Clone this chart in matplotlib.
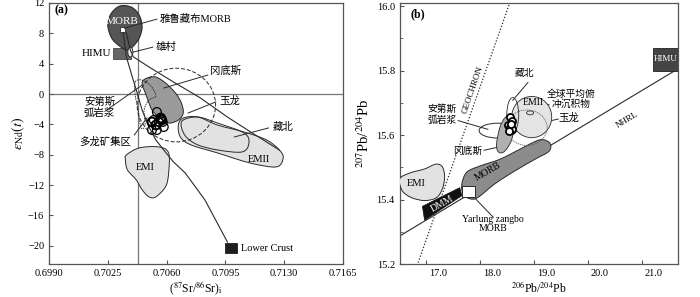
import numpy as np
import matplotlib
matplotlib.use("Agg")
import matplotlib.pyplot as plt
from matplotlib.path import Path
from matplotlib.patches import PathPatch, Rectangle, Ellipse, Polygon
import matplotlib.transforms as mtransforms
from matplotlib.ticker import MultipleLocator

plt.rcParams['font.family'] = ['Liberation Serif', 'Noto Sans CJK SC']
plt.rcParams['mathtext.fontset'] = 'stix'
plt.rcParams['font.size'] = 7.5

# ---------------- panel (a): Sr-Nd ----------------
morb_a_sr = [0.70250, 0.70268, 0.70320, 0.70390, 0.70437, 0.70454, 0.70437, 0.70402, 0.70367, 0.70320, 0.70273]
morb_a_nd = [9.08, 10.53, 11.58, 11.45, 10.39, 8.82, 7.37, 6.32, 5.79, 6.32, 7.37]

himu_a_sr = (0.70279, 0.70390)
himu_a_nd = (4.61, 6.05)

gangdese_a_sr = [0.70454, 0.70483, 0.70536, 0.70594, 0.70653, 0.70688, 0.70699, 0.70670, 0.70612, 0.70553, 0.70513, 0.70495, 0.70478]
gangdese_a_nd = [1.45, 2.1, 2.24, 1.45, 0.13, -1.18, -2.5, -3.42, -3.82, -3.03, -2.1, -1.18, -0.13]

andes_a_sr = [0.70413, 0.70454, 0.70507, 0.70536, 0.70495, 0.70466, 0.70472, 0.70448, 0.70431, 0.70413]
andes_a_nd = [1.58, 1.84, 1.05, -0.26, -0.79, -2.1, -4.08, -4.47, -2.1, -0.13]

emii_a_sr = [0.70699, 0.70787, 0.70903, 0.71061, 0.71195, 0.71271, 0.71294, 0.71253, 0.71096, 0.70903, 0.70746, 0.70682, 0.70670]
emii_a_nd = [-3.16, -3.03, -4.08, -5.0, -6.05, -7.37, -8.42, -9.6, -9.08, -7.76, -6.71, -5.66, -4.08]

zangbei_a_sr = [0.70699, 0.70787, 0.70903, 0.71061, 0.71090, 0.71049, 0.70903, 0.70787, 0.70717, 0.70688]
zangbei_a_nd = [-3.42, -3.03, -3.82, -5.13, -6.45, -7.63, -7.37, -6.71, -5.66, -4.34]

emi_a_sr = [0.70361, 0.70437, 0.70553, 0.70612, 0.70612, 0.70594, 0.70536, 0.70495, 0.70454, 0.70419, 0.70367, 0.70355]
emi_a_nd = [-8.03, -7.1, -6.97, -7.76, -10.4, -12.2, -13.55, -13.55, -12.6, -11.3, -10.0, -8.68]

yulong_a_center = (0.70658, -1.45)
yulong_a_size = (0.00467, 9.7)

curve_lc_sr = [0.70338, 0.70361, 0.70396, 0.70425, 0.70454, 0.70495, 0.70536, 0.70583, 0.70641, 0.70711, 0.70828, 0.70962]
curve_lc_nd = [8.55, 4.87, 2.24, 0.13, -2.1, -4.34, -6.05, -7.37, -8.95, -10.4, -13.95, -19.5]

curve_up_sr = [0.70338, 0.70361, 0.70384, 0.70402, 0.70500, 0.70640, 0.70800, 0.70960, 0.71100, 0.71271]
curve_up_nd = [8.55, 8.0, 5.8, 4.9, 3.5, 1.6, -0.5, -3.0, -5.0, -7.37]

duolong_sr = [0.70542, 0.70524, 0.70565, 0.70577, 0.70536, 0.70513, 0.70583, 0.70542, 0.70571, 0.70513, 0.70553]
duolong_nd = [-2.37, -3.42, -3.16, -3.68, -4.08, -4.74, -4.34, -4.74, -3.42, -3.68, -3.68]

xiongcun = (0.70384, 5.53)
yarlung_a = (0.70338, 8.55)
lower_crust = (0.70985, -20.25)

sr_ticks = [0.6990, 0.7025, 0.7060, 0.7095, 0.7130, 0.7165]
nd_ticks = [-20, -16, -12, -8, -4, 0, 4, 8, 12]

# ---------------- panel (b): Pb-Pb ----------------
geochron_x = [16.60, 18.70]
geochron_y = [15.08, 16.08]
nhrl_x = [16.52, 21.667]
nhrl_y = [15.287, 15.806]

himu_b_x = (21.20, 21.67)
himu_b_y = (15.80, 15.87)

emi_b_x = [16.52, 16.70, 16.98, 17.19, 17.31, 17.35, 17.31, 17.20, 16.98, 16.74, 16.57]
emi_b_y = [15.464, 15.482, 15.495, 15.510, 15.501, 15.470, 15.434, 15.406, 15.397, 15.406, 15.427]

dmm_x = [16.94, 17.63, 17.67, 16.98]
dmm_y = [15.379, 15.437, 15.412, 15.336]

morb_b_x = [17.67, 17.76, 18.0, 18.37, 18.74, 19.02, 19.17, 19.30, 19.28, 19.02, 18.65, 18.28, 17.96, 17.81, 17.69]
morb_b_y = [15.449, 15.485, 15.504, 15.525, 15.556, 15.580, 15.586, 15.574, 15.550, 15.525, 15.489, 15.449, 15.406, 15.403, 15.418]

yarlung_b_x = (17.67, 17.91)
yarlung_b_y = (15.409, 15.443)

gangdese_b_x = [18.56, 18.63, 18.59, 18.46, 18.35, 18.31, 18.37, 18.46]
gangdese_b_y = [15.66, 15.641, 15.586, 15.55, 15.547, 15.571, 15.623, 15.653]

andes_b = (18.33, 15.614, 0.685, 0.046)
emii_b = (18.96, 15.656, 0.74, 0.128)
yulong_b = (18.87, 15.623, 0.75, 0.11)
zangbei_b = (18.61, 15.663, 0.22, 0.107)
sediment_b = (18.93, 15.669, 0.13, 0.012)

samples_b_x = [18.56, 18.59, 18.52, 18.56, 18.59, 18.54, 18.57]
samples_b_y = [15.656, 15.644, 15.632, 15.626, 15.620, 15.614, 15.635]

pb206_ticks = [17.0, 18.0, 19.0, 20.0, 21.0]
pb207_ticks = [15.2, 15.4, 15.6, 15.8, 16.0]

LINE = '#2a2a2a'


def smooth_closed(ax, xs, ys, **kw):
    # closed Catmull-Rom outline through the read points
    P = np.column_stack([xs, ys])
    n = len(P)
    verts = [P[0]]
    codes = [Path.MOVETO]
    for i in range(n):
        p0, p1, p2, p3 = P[i - 1], P[i], P[(i + 1) % n], P[(i + 2) % n]
        verts += [p1 + (p2 - p0) / 6, p2 - (p3 - p1) / 6, p2]
        codes += [Path.CURVE4] * 3
    p = PathPatch(Path(verts, codes), **kw)
    ax.add_patch(p)
    return p


fig = plt.figure(figsize=(7.0, 2.97), dpi=100)
ax1 = fig.add_axes([0.070, 0.111, 0.420, 0.879])
ax2 = fig.add_axes([0.571, 0.111, 0.398, 0.879])

for ax in (ax1, ax2):
    for s in ax.spines.values():
        s.set_color('#555555')
        s.set_linewidth(0.9)
    ax.tick_params(direction='in', length=3, color='#555555', labelsize=7.5,
                   top=False, right=False)

# ---- panel a ----
ax1.set_xlim(0.6990, 0.7163)
ax1.set_ylim(-22.4, 12)
ax1.set_xticks(sr_ticks)
ax1.set_xticklabels(['%.4f' % t for t in sr_ticks])
ax1.set_yticks(nd_ticks)
ax1.axhline(0, color='#777777', lw=0.9, zorder=1)
ax1.axvline(0.70431, color='#777777', lw=0.9, zorder=1)

smooth_closed(ax1, emi_a_sr, emi_a_nd, fc='#e2e2e2', ec=LINE, lw=0.7, zorder=2)
smooth_closed(ax1, emii_a_sr, emii_a_nd, fc='#e2e2e2', ec=LINE, lw=0.7, zorder=2)
smooth_closed(ax1, zangbei_a_sr, zangbei_a_nd, fill=False, ec=LINE, lw=0.7, zorder=3)
smooth_closed(ax1, gangdese_a_sr, gangdese_a_nd, fc='#9a9a9a', ec=LINE, lw=0.7, zorder=3)
smooth_closed(ax1, andes_a_sr, andes_a_nd, fill=False, ec=LINE, lw=0.6, ls=(0, (2, 1)), zorder=4)
ax1.add_patch(Ellipse(yulong_a_center, yulong_a_size[0], yulong_a_size[1], fill=False,
                      ec=LINE, lw=0.7, ls=(0, (4, 2)), zorder=4))
ax1.add_patch(Rectangle((himu_a_sr[0], himu_a_nd[0]), himu_a_sr[1] - himu_a_sr[0],
                        himu_a_nd[1] - himu_a_nd[0], fc='#666666', ec='#444444', lw=0.6, zorder=3))
smooth_closed(ax1, morb_a_sr, morb_a_nd, fc='#555555', ec=LINE, lw=0.8, zorder=4)
ax1.add_patch(Ellipse(xiongcun, 0.00030, 1.3, fc='#f0f0f0', ec=LINE, lw=0.7, zorder=5))
ax1.plot(curve_lc_sr, curve_lc_nd, color=LINE, lw=0.8, zorder=5)
ax1.plot(curve_up_sr, curve_up_nd, color=LINE, lw=0.8, zorder=5)
ax1.add_patch(Rectangle((yarlung_a[0] - 0.00014, yarlung_a[1] - 0.33), 0.00028, 0.66,
                        fc='white', ec=LINE, lw=0.6, zorder=6))
ax1.add_patch(Rectangle((lower_crust[0] - 0.00035, lower_crust[1] - 0.65), 0.0007, 1.3,
                        fc='#1e1e1e', ec='#1e1e1e', lw=0.6, zorder=6))
ax1.scatter(duolong_sr, duolong_nd, s=40, facecolors='none', edgecolors='black',
            linewidths=[0.9, 0.9, 1.4, 0.9, 1.4, 0.9, 0.9, 0.9, 1.4, 1.4, 0.9], zorder=7)

ax1.text(0.6993, 10.7, '(a)', fontsize=8.5, fontweight='bold', zorder=8)
ax1.text(0.70335, 9.5, 'MORB', color='white', ha='center', va='center', fontsize=8, zorder=8)
ax1.text(0.70273, 5.35, 'HIMU', ha='right', va='center', fontsize=8)
leaders_a = [
    ((0.70349, 8.68), (0.70542, 9.87), (0.70560, 9.87), '雅鲁藏布MORB', 'left'),
    ((0.70402, 5.53), (0.70518, 6.18), (0.70536, 6.18), '雄村', 'left'),
    ((0.70583, 0.79), (0.70845, 2.5), (0.70860, 3.1), '冈底斯', 'left'),
    ((0.70728, -2.5), (0.70892, -1.05), (0.70915, -0.85), '玉龙', 'left'),
    ((0.71003, -5.66), (0.71207, -4.47), (0.71230, -4.34), '藏北', 'left'),
]
for p0, p1, pt, txt, ha in leaders_a:
    ax1.plot([p0[0], p1[0]], [p0[1], p1[1]], color=LINE, lw=0.7, zorder=8)
    ax1.text(pt[0], pt[1], txt, ha=ha, va='center', fontsize=7.5, zorder=8)
ax1.plot([0.70244, 0.70454], [-2.1, 1.18], color=LINE, lw=0.7, zorder=8)
ax1.text(0.70200, -1.75, '安第斯\n弧岩浆', ha='center', va='center', fontsize=7.5,
         linespacing=1.2)
ax1.plot([0.70408, 0.70483], [-5.39, -3.16], color=LINE, lw=0.7, zorder=8)
ax1.text(0.70232, -6.25, '多龙矿集区', ha='center', va='center', fontsize=7.5)
ax1.text(0.70472, -9.74, 'EMI', ha='center', va='center', fontsize=7.5)
ax1.text(0.71148, -8.68, 'EMII', ha='center', va='center', fontsize=7.5)
ax1.text(0.71040, -20.35, 'Lower Crust', ha='left', va='center', fontsize=7.5)

ax1.set_xlabel(r'($^{87}$Sr/$^{86}$Sr)$_{\mathrm{i}}$', fontsize=8.5, labelpad=1.5)
ax1.set_ylabel(r'$\varepsilon_{\mathrm{Nd}}(t)$', fontsize=10, labelpad=1)

# ---- panel b ----
ax2.set_xlim(16.52, 21.67)
ax2.set_ylim(15.2, 16.01)
ax2.set_xticks(pb206_ticks)
ax2.set_xticklabels(['%.1f' % t for t in pb206_ticks])
ax2.set_yticks(pb207_ticks)
ax2.set_yticklabels(['%.1f' % t for t in pb207_ticks])
ax2.yaxis.set_minor_locator(MultipleLocator(0.1))
ax2.tick_params(which='minor', direction='in', length=2.5, color='#555555')
off = mtransforms.ScaledTranslation(0.12, 0, fig.dpi_scale_trans)
for lab in ax2.get_xticklabels():
    lab.set_transform(lab.get_transform() + off)

ax2.plot(geochron_x, geochron_y, color=LINE, lw=0.9, ls=(0, (1, 1.5)), zorder=2)
ax2.plot(nhrl_x, nhrl_y, color=LINE, lw=0.8, zorder=2)
ax2.add_patch(Rectangle((himu_b_x[0], himu_b_y[0]), himu_b_x[1] - himu_b_x[0],
                        himu_b_y[1] - himu_b_y[0], fc='#444444', ec='#222222', lw=0.6, zorder=3))
ax2.text(sum(himu_b_x) / 2, sum(himu_b_y) / 2, 'HIMU', color='white', ha='center', va='center',
         fontsize=6.5, zorder=4)
smooth_closed(ax2, emi_b_x, emi_b_y, fc='#e2e2e2', ec=LINE, lw=0.7, zorder=3)
ax2.add_patch(Polygon(np.column_stack([dmm_x, dmm_y]), closed=True, fc='#111111', ec='#111111',
                      lw=0.5, zorder=3))
smooth_closed(ax2, morb_b_x, morb_b_y, fc='#8c8c8c', ec=LINE, lw=0.7, zorder=3)
ax2.add_patch(Rectangle((yarlung_b_x[0], yarlung_b_y[0]), yarlung_b_x[1] - yarlung_b_x[0],
                        yarlung_b_y[1] - yarlung_b_y[0], fc='white', ec=LINE, lw=0.7, zorder=4))
ax2.add_patch(Ellipse(emii_b[:2], emii_b[2], emii_b[3], angle=0, fc='#e4e4e4', ec=LINE,
                      lw=0.6, zorder=3))
ax2.add_patch(Ellipse(yulong_b[:2], yulong_b[2], yulong_b[3], fill=False, ec='#555555',
                      lw=0.5, ls=(0, (2, 1)), zorder=4))
ax2.add_patch(Ellipse(andes_b[:2], andes_b[2], andes_b[3], fill=False, ec=LINE, lw=0.7, zorder=4))
ax2.add_patch(Ellipse(zangbei_b[:2], zangbei_b[2], zangbei_b[3], fill=False, ec=LINE, lw=0.6, zorder=4))
ax2.add_patch(Ellipse(sediment_b[:2], sediment_b[2], sediment_b[3], fill=False, ec=LINE, lw=0.6, zorder=4))
smooth_closed(ax2, gangdese_b_x, gangdese_b_y, fc='#b0b0b0', ec=LINE, lw=0.6, zorder=5)
ax2.scatter(samples_b_x, samples_b_y, s=26, facecolors='white', edgecolors='black',
            linewidths=1.3, zorder=6)

ax2.text(16.72, 15.965, '(b)', fontsize=8.5, fontweight='bold')
ax2.text(17.87, 15.74, 'GEOCHRON', rotation=71, ha='center', va='center', fontsize=6.5)
ax2.text(20.72, 15.647, 'NHRL', rotation=31, ha='center', va='center', fontsize=6.5)
ax2.text(16.83, 15.449, 'EMI', ha='center', va='center', fontsize=7.5)
ax2.text(17.30, 15.388, 'DMM', rotation=29, color='white', ha='center', va='center', fontsize=7)
ax2.text(18.15, 15.487, 'MORB', rotation=30, ha='center', va='center', fontsize=7)
ax2.text(18.98, 15.70, 'EMII', ha='center', va='center', fontsize=7)
ax2.text(17.30, 15.663, '安第斯\n弧岩浆', ha='center', va='center', fontsize=7, linespacing=1.2)
ax2.plot([17.60, 18.15], [15.645, 15.618], color=LINE, lw=0.7)
ax2.text(17.78, 15.550, '冈底斯', ha='center', va='center', fontsize=7)
ax2.plot([18.08, 18.32], [15.553, 15.562], color=LINE, lw=0.7)
ax2.text(18.83, 15.79, '藏北', ha='center', va='center', fontsize=7)
ax2.plot([18.89, 18.61], [15.763, 15.708], color=LINE, lw=0.7)
ax2.text(19.69, 15.712, '全球平均俯\n冲沉积物', ha='center', va='center', fontsize=7,
         linespacing=1.1)
ax2.plot([18.96, 19.28], [15.669, 15.695], color=LINE, lw=0.7)
ax2.text(19.65, 15.655, '玉龙', ha='center', va='center', fontsize=7.5)
ax2.plot([19.45, 18.70], [15.650, 15.620], color=LINE, lw=0.7)
ax2.text(18.24, 15.325, 'Yarlung zangbo\nMORB', ha='center', va='center', fontsize=7,
         linespacing=1.0)
ax2.plot([17.85, 18.25], [15.415, 15.345], color=LINE, lw=0.7)

ax2.set_xlabel(r'$^{206}$Pb/$^{204}$Pb', fontsize=8.5, labelpad=1.5)
ax2.set_ylabel(r'$^{207}$Pb/$^{204}$Pb', fontsize=10.5, labelpad=3)

fig.savefig('out.png', dpi=100, facecolor='white')
